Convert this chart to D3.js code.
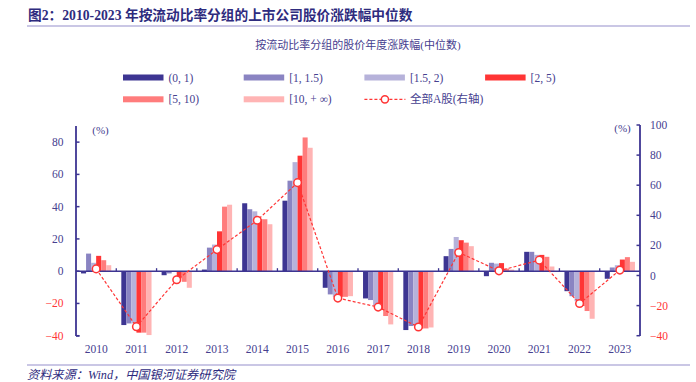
<!DOCTYPE html>
<html><head><meta charset="utf-8">
<script src="https://cdn.jsdelivr.net/npm/d3@7/dist/d3.min.js"></script>
<style>
html,body{margin:0;padding:0;background:#fff;}
svg{display:block;}
text{font-family:"Liberation Serif","Noto Sans CJK SC",serif;}
</style></head>
<body>
<svg id="c" width="696" height="382"></svg>
<script>
const years = ["2010","2011","2012","2013","2014","2015","2016","2017","2018","2019","2020","2021","2022","2023"];
const seriesNames = ["(0, 1)","[1, 1.5)","[1.5, 2)","[2, 5)","[5, 10)","[10, + ∞)"];
const seriesColors = ["#3d3592","#8a84c2","#b6b2da","#ff3535","#ff7c7c","#ffb4b4"];
const s0 = [-1.4,-33.4,-2.5,1.0,42.1,43.7,-10.3,-16.9,-36.5,9.3,-3.1,12.0,-12.4,-4.7];
const s1 = [10.9,-32.4,-1.4,14.6,38.4,56.1,-14.4,-17.9,-34.0,13.8,5.2,12.0,-15.5,2.3];
const s2 = [5.2,-32.4,-0.4,16.5,37.1,67.6,-15.9,-21.6,-34.0,21.2,4.7,10.1,-18.6,3.7];
const s3 = [9.5,-38.1,-4.5,24.7,32.2,71.6,-15.9,-24.1,-35.5,19.2,5.0,10.1,-21.6,7.2];
const s4 = [6.8,-38.1,-6.6,40.0,32.2,82.9,-15.9,-27.8,-35.5,17.7,1.6,8.9,-24.7,8.7];
const s5 = [3.7,-39.6,-10.3,41.2,29.1,76.5,-15.5,-33.0,-34.9,15.5,1.0,2.9,-29.5,5.8];
const allA = [4.4,-34.0,-2.85,17.2,36.7,61.7,-15.0,-21.0,-34.2,15.3,3.1,10.2,-18.6,3.6];
const leftTicks = [-40,-20,0,20,40,60,80];
const rightTicks = [-40,-20,0,20,40,60,80,100];
const lineName = "全部A股(右轴)";
const title = "图2：2010-2023 年按流动比率分组的上市公司股价涨跌幅中位数";
const subtitle = "按流动比率分组的股价年度涨跌幅(中位数)";
const source = "资料来源：Wind，中国银河证券研究院";

const seriesVals = [s0,s1,s2,s3,s4,s5];
const navy = "#3d3592";
const txt = "#46408f";
const red = "#ff3535";

const svg = d3.select("#c");
const L = 76, R = 640;
const x = d3.scaleBand().domain(years).range([L, R]).padding(0);
const x1 = d3.scaleBand().domain(seriesNames).range([0, x.bandwidth()]).paddingInner(0).paddingOuter(1);
const yL = d3.scaleLinear().domain([-40, 90]).range([335.7, 126]);
const yR = d3.scaleLinear().domain([-40, 100]).range([335.7, 125]);

// title
svg.append("text").attr("x", 28).attr("y", 20).attr("font-size", 13.7).attr("font-weight", "bold")
  .attr("fill", "#2e2b7e").text(title);
svg.append("line").attr("x1", 27).attr("x2", 690).attr("y1", 26).attr("y2", 26)
  .attr("stroke", "#b8b4dc").attr("stroke-width", 1.6);
svg.append("text").attr("x", 358).attr("y", 49).attr("text-anchor", "middle").attr("font-size", 11)
  .attr("fill", txt).text(subtitle);

// legend
const lg = svg.append("g");
const legendItems = seriesNames.map((n,i)=>({name:n,color:seriesColors[i],type:"bar"}))
  .concat([{name:lineName,color:red,type:"line"}]);
legendItems.forEach((d,i)=>{
  const col = i % 4, row = Math.floor(i / 4);
  const gx = 123 + col * 120.7, gy = 77.5 + row * 21.8;
  if (d.type === "bar") {
    lg.append("rect").attr("x", gx).attr("y", gy - 3).attr("width", 40.5).attr("height", 6).attr("fill", d.color);
  } else {
    lg.append("line").attr("x1", gx).attr("x2", gx + 41).attr("y1", gy).attr("y2", gy)
      .attr("stroke", d.color).attr("stroke-width", 1.2).attr("stroke-dasharray", "3,2");
    lg.append("circle").attr("cx", gx + 20.5).attr("cy", gy).attr("r", 3.6)
      .attr("fill", "#fff").attr("stroke", d.color).attr("stroke-width", 1.5);
  }
  lg.append("text").attr("x", gx + 45.5).attr("y", gy + 4).attr("font-size", 11.5).attr("fill", txt).text(d.name);
});

// bars
const gb = svg.append("g");
seriesVals.forEach((vals, si)=>{
  gb.selectAll(null).data(vals).enter().append("rect")
    .attr("x", (v,i)=> x(years[i]) + x1(seriesNames[si]))
    .attr("width", x1.bandwidth())
    .attr("y", v => Math.min(yL(v), yL(0)))
    .attr("height", v => Math.abs(yL(v) - yL(0)))
    .attr("fill", seriesColors[si]);
});

// zero baseline with category ticks
svg.append("line").attr("x1", L).attr("x2", R).attr("y1", yL(0)).attr("y2", yL(0))
  .attr("stroke", navy).attr("stroke-width", 1.5);
years.forEach((y,i)=>{
  if (i === 0) return;
  svg.append("line").attr("x1", x(y)).attr("x2", x(y)).attr("y1", yL(0)).attr("y2", yL(0) - 3)
    .attr("stroke", navy).attr("stroke-width", 1.3);
});

// left axis
const ga = svg.append("g");
ga.append("line").attr("x1", L).attr("x2", L).attr("y1", 126).attr("y2", 336).attr("stroke", navy).attr("stroke-width", 1.8);
leftTicks.forEach(t=>{
  ga.append("line").attr("x1", L).attr("x2", L + 3.5).attr("y1", yL(t)).attr("y2", yL(t)).attr("stroke", navy).attr("stroke-width", 1.5);
  ga.append("text").attr("x", 63.5).attr("y", yL(t) + 4).attr("text-anchor", "end").attr("font-size", 11.5)
    .attr("fill", t < 0 ? red : txt).text(t < 0 ? "\u2212" + Math.abs(t) : t);
});
ga.append("line").attr("x1", L).attr("x2", L + 3.5).attr("y1", 336).attr("y2", 336).attr("stroke", navy).attr("stroke-width", 1.5);
ga.append("text").attr("x", 100.5).attr("y", 134).attr("text-anchor", "middle").attr("font-size", 11).attr("fill", txt).text("(%)");

// right axis
ga.append("line").attr("x1", R).attr("x2", R).attr("y1", 125).attr("y2", 336).attr("stroke", navy).attr("stroke-width", 1.8);
rightTicks.forEach(t=>{
  ga.append("line").attr("x1", R - 3.5).attr("x2", R).attr("y1", yR(t)).attr("y2", yR(t)).attr("stroke", navy).attr("stroke-width", 1.5);
  ga.append("text").attr("x", 650).attr("y", yR(t) + 4).attr("text-anchor", "start").attr("font-size", 11.5)
    .attr("fill", t < 0 ? red : txt).text(t < 0 ? "\u2212" + Math.abs(t) : t);
});
ga.append("text").attr("x", 622.5).attr("y", 132).attr("text-anchor", "middle").attr("font-size", 11).attr("fill", txt).text("(%)");

// year labels
years.forEach(y=>{
  svg.append("text").attr("x", x(y) + x.bandwidth()/2).attr("y", 353).attr("text-anchor", "middle")
    .attr("font-size", 11.5).attr("fill", txt).text(y);
});

// line on right axis
const line = d3.line().x((v,i)=> x(years[i]) + x.bandwidth()/2).y(v => yR(v));
svg.append("path").datum(allA).attr("d", line).attr("fill", "none").attr("stroke", red)
  .attr("stroke-width", 1.2).attr("stroke-dasharray", "3,2");
svg.selectAll(null).data(allA).enter().append("circle")
  .attr("cx", (v,i)=> x(years[i]) + x.bandwidth()/2).attr("cy", v => yR(v)).attr("r", 3.8)
  .attr("fill", "#fff").attr("stroke", red).attr("stroke-width", 1.5);

// footer
svg.append("line").attr("x1", 27).attr("x2", 690).attr("y1", 365).attr("y2", 365)
  .attr("stroke", "#b8b4dc").attr("stroke-width", 1.6);
svg.append("text").attr("x", 27).attr("y", 379).attr("font-size", 12.2).attr("font-style", "italic")
  .attr("fill", "#2e2b7e").text(source);
</script>
</body></html>
